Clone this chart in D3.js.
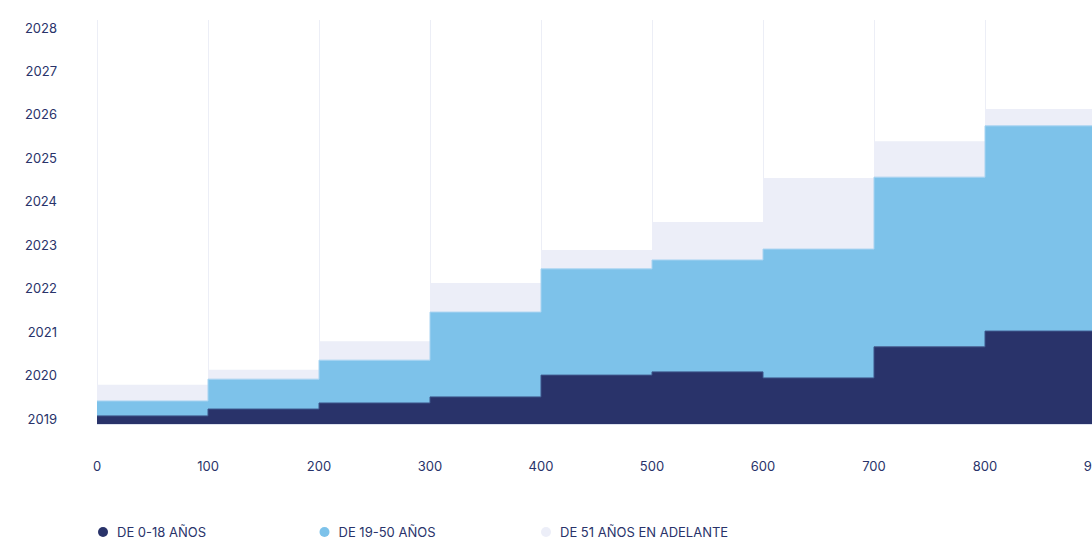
<!DOCTYPE html>
<html>
<head>
<meta charset="utf-8">
<script src="https://cdn.jsdelivr.net/npm/d3@7"></script>
<style>
  body { margin: 0; background: #fff; }
  svg { display: block; font-family: Inter, "Noto Sans", sans-serif; }
</style>
</head>
<body>
<svg id="chart" width="1092" height="543"></svg>
<script>
// tick labels
const years = ["2019", "2020", "2021", "2022", "2023", "2024", "2025", "2026", "2027", "2028"];
const xTicks = [0, 100, 200, 300, 400, 500, 600, 700, 800, 900];

// step start of each segment
const steps = [0, 100, 200, 300, 400, 500, 600, 700, 800];

// series values (layer thickness)
const age0to18 = [2.0, 3.7, 5.2, 6.7, 12.1, 12.9, 11.4, 19.1, 23.0];
const age19to50 = [3.7, 7.4, 10.6, 21.0, 26.3, 27.7, 31.9, 42.0, 50.8];
const age51plus = [4.0, 2.3, 4.7, 7.2, 4.7, 9.4, 17.6, 8.9, 4.2];

const seriesNames = ["DE 0-18 AÑOS", "DE 19-50 AÑOS", "DE 51 AÑOS EN ADELANTE"];
const colors = ["#29336a", "#7dc2ea", "#eceef8"];
const strokes = ["#3d558a", "#a8d3f1", "#e2e6f4"];

const svg = d3.select("#chart");
const textColor = "#29336a";

const x = d3.scaleLinear().domain([0, 900]).range([97, 1096]);
const y = d3.scaleLinear().domain([0, 100]).range([424, 20]);
const yYear = d3.scalePoint().domain(years).range([419, 28]);

// build the table for the stack
const table = steps.map((s, i) => ({
    x: s,
    a: age0to18[i],
    b: age19to50[i],
    c: age51plus[i]
}));
// last step runs until the end of the axis
table.push(Object.assign({}, table[table.length - 1], { x: 900 }));

const stack = d3.stack().keys(["a", "b", "c"]);
const layers = stack(table);

// vertical grid
svg.append("g")
    .selectAll("line")
    .data(xTicks)
    .join("line")
    .attr("x1", d => x(d) + 0.5)
    .attr("x2", d => x(d) + 0.5)
    .attr("y1", 20)
    .attr("y2", 424)
    .attr("stroke", "#eceef6")
    .attr("stroke-width", 1);

const area = d3.area()
    .curve(d3.curveStepAfter)
    .x(d => x(d.data.x))
    .y0(d => y(d[0]))
    .y1(d => y(d[1]));

const topLine = d3.line()
    .curve(d3.curveStepAfter)
    .x(d => x(d.data.x))
    .y(d => y(d[1]));

// draw top layers first so the edges of lower layers stay visible
const layerG = svg.append("g");
layers.slice().reverse().forEach(layer => {
    layerG.append("path")
        .datum(layer)
        .attr("d", area)
        .attr("fill", colors[layer.index]);
});
layers.forEach(layer => {
    if (layer.index === 2) return;
    layerG.append("path")
        .datum(layer)
        .attr("d", topLine)
        .attr("fill", "none")
        .attr("stroke", strokes[layer.index])
        .attr("stroke-width", 1);
});

// baseline
svg.append("line")
    .attr("x1", x(0))
    .attr("x2", 1092)
    .attr("y1", 424.5)
    .attr("y2", 424.5)
    .attr("stroke", "#dde2ee");

// y labels
svg.append("g")
    .selectAll("text")
    .data(years)
    .join("text")
    .attr("x", 57)
    .attr("y", d => yYear(d))
    .attr("dy", "0.35em")
    .attr("text-anchor", "end")
    .attr("fill", textColor)
    .style("font-size", "13px")
    .text(d => d);

// x labels
svg.append("g")
    .selectAll("text")
    .data(xTicks)
    .join("text")
    .attr("x", d => x(d))
    .attr("y", 466)
    .attr("dy", "0.35em")
    .attr("text-anchor", "middle")
    .attr("fill", textColor)
    .style("font-size", "13px")
    .text(d => d);

// legend
const legend = svg.append("g")
    .selectAll("g")
    .data(seriesNames)
    .join("g")
    .attr("transform", (d, i) => `translate(${103 + i * 221.5},532)`);

legend.append("circle")
    .attr("r", 5)
    .attr("fill", (d, i) => colors[i]);

legend.append("text")
    .attr("x", 14)
    .attr("dy", "0.35em")
    .attr("fill", textColor)
    .style("font-size", "13px")
    .text(d => d);
</script>
</body>
</html>
